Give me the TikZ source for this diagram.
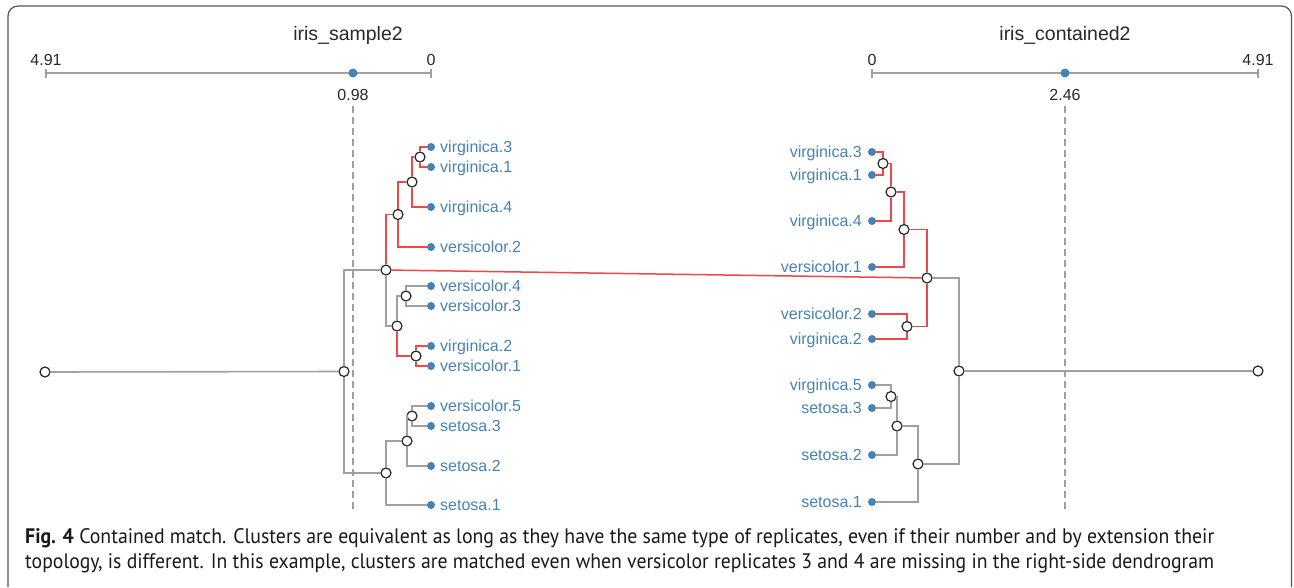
\documentclass[tikz,border=0pt]{standalone}
\usepackage{fontspec}
\setmainfont{Liberation Sans}
\newfontfamily\capfont{PT Sans}
\usepackage{graphicx}
\definecolor{edgegray}{RGB}{160,160,160}
\definecolor{edgered}{RGB}{240,72,72}
\definecolor{leafblue}{RGB}{70,130,180}
\definecolor{framegray}{RGB}{85,85,85}
\definecolor{txtdark}{RGB}{40,40,40}
\tikzset{
  leaf/.style={circle,fill=leafblue,inner sep=0pt,minimum size=8pt},
  inode/.style={circle,draw=black!85,fill=white,line width=1.2pt,inner sep=0pt,minimum size=10pt},
  gedge/.style={draw=edgegray,line width=1.6pt},
  redge/.style={draw=edgered,line width=1.6pt},
  lblL/.style={anchor=base west,text=leafblue,font=\fontsize{16}{19}\selectfont,inner sep=0pt},
  lblR/.style={anchor=base east,text=leafblue,font=\fontsize{16}{19}\selectfont,inner sep=0pt},
  numlbl/.style={anchor=base,text=txtdark,font=\fontsize{16}{19}\selectfont,inner sep=0pt},
  titlelbl/.style={anchor=base,text=txtdark,font=\fontsize{19.5}{23}\selectfont,inner sep=0pt},
  scalebar/.style={draw=edgegray,line width=1.3pt},
  cutline/.style={draw=edgegray,line width=1.2pt,dash pattern=on 7pt off 4pt},
  capline/.style={anchor=base west,inner sep=0pt,text=black!90}
}
\begin{document}
\begin{tikzpicture}[x=1pt,y=-1pt]
\useasboundingbox (0,0) rectangle (1294,587);
% frame
\draw[framegray,line width=1.2pt,rounded corners=10pt] (8,587) -- (8,6) -- (1291.5,6) -- (1291.5,587);

% ---------- left scale ----------
\node[titlelbl] (tL) at (348,40) {iris\_sample2};
\coordinate (sL0) at (46,73);
\coordinate (sL1) at (431,73);
\draw[scalebar] (sL0) -- (sL1);
\draw[scalebar] ([yshift=-4.5pt]sL0) -- ([yshift=4.5pt]sL0);
\draw[scalebar] ([yshift=-4.5pt]sL1) -- ([yshift=4.5pt]sL1);
\node[numlbl] (nL0) at (46,65) {4.91};
\node[numlbl] (nL1) at (431,65) {0};
\node[leaf,minimum size=9pt] (dL) at (353,73) {};
\node[numlbl] (nLc) at (353,100) {0.98};
\coordinate (cL1) at (353,106);
\coordinate (cL2) at (353,510);
\draw[cutline] (cL1) -- (cL2);

% ---------- right scale ----------
\node[titlelbl] (tR) at (1065,40) {iris\_contained2};
\coordinate (sR0) at (872,73);
\coordinate (sR1) at (1258,73);
\draw[scalebar] (sR0) -- (sR1);
\draw[scalebar] ([yshift=-4.5pt]sR0) -- ([yshift=4.5pt]sR0);
\draw[scalebar] ([yshift=-4.5pt]sR1) -- ([yshift=4.5pt]sR1);
\node[numlbl] (nR0) at (872,65) {0};
\node[numlbl] (nR1) at (1258,65) {4.91};
\node[leaf,minimum size=9pt] (dR) at (1065,73) {};
\node[numlbl] (nRc) at (1065,100) {2.46};
\coordinate (cR1) at (1065,106);
\coordinate (cR2) at (1065,510);
\draw[cutline] (cR1) -- (cR2);

% ---------- left leaves ----------
\foreach \n/\y/\t in {lv3/147/virginica.3, lv1/167/virginica.1, lv4/207/virginica.4,
  lve2/247/versicolor.2, lve4/286/versicolor.4, lve3/306/versicolor.3,
  lv2/346/virginica.2, lve1/366/versicolor.1, lve5/406/versicolor.5,
  ls3/426/setosa.3, ls2/466/setosa.2, ls1/505/setosa.1}{
  \node[leaf] (\n) at (431,\y) {};
  \node[lblL] (\n-t) at (440,\y+5.5) {\t};
}
% left internal nodes
\node[inode] (LA) at (420,157) {};
\node[inode] (LB) at (412,182) {};
\node[inode] (LC) at (398,214.5) {};
\node[inode] (LD) at (406,296) {};
\node[inode] (LE) at (416,356) {};
\node[inode] (LF) at (397,326) {};
\node[inode] (LG) at (386,270) {};
\node[inode] (LH) at (412,416) {};
\node[inode] (LI) at (407,441) {};
\node[inode] (LJ) at (386,473) {};
\node[inode] (LK) at (344,371.5) {};
\node[inode] (LR) at (45,372) {};

\draw[redge] (LA) |- (lv3);
\draw[redge] (LA) |- (lv1);
\draw[redge] (LB) |- (LA);
\draw[redge] (LB) |- (lv4);
\draw[redge] (LC) |- (LB);
\draw[redge] (LC) |- (lve2);
\draw[gedge] (LD) |- (lve4);
\draw[gedge] (LD) |- (lve3);
\draw[redge] (LE) |- (lv2);
\draw[redge] (LE) |- (lve1);
\draw[gedge] (LF) |- (LD);
\draw[redge] (LF) |- (LE);
\draw[redge] (LG) |- (LC);
\draw[gedge] (LG) |- (LF);
\draw[gedge] (LH) |- (lve5);
\draw[gedge] (LH) |- (ls3);
\draw[gedge] (LI) |- (LH);
\draw[gedge] (LI) |- (ls2);
\draw[gedge] (LJ) |- (LI);
\draw[gedge] (LJ) |- (ls1);
\draw[gedge] (LK) |- (LG);
\draw[gedge] (LK) |- (LJ);
\draw[gedge] (LR) -- (LK);

% ---------- right leaves ----------
\foreach \n/\y/\t in {rv3/152/virginica.3, rv1/175/virginica.1, rv4/221/virginica.4,
  rve1/267/versicolor.1, rve2/314/versicolor.2, rv2/339/virginica.2,
  rv5/385/virginica.5, rs3/408/setosa.3, rs2/455/setosa.2, rs1/502/setosa.1}{
  \node[leaf] (\n) at (872,\y) {};
  \node[lblR] (\n-t) at (862,\y+5.5) {\t};
}
\node[inode] (Ra) at (883,163.5) {};
\node[inode] (Rb) at (891,192) {};
\node[inode] (Rc) at (904,229.5) {};
\node[inode] (Rd) at (907,326.5) {};
\node[inode] (Re) at (927,278) {};
\node[inode] (Rf) at (891,396.5) {};
\node[inode] (Rg) at (897,426) {};
\node[inode] (Rh) at (918,464) {};
\node[inode] (Ri) at (959,371) {};
\node[inode] (RR) at (1258,371) {};

\draw[redge] (Ra) |- (rv3);
\draw[redge] (Ra) |- (rv1);
\draw[redge] (Rb) |- (Ra);
\draw[redge] (Rb) |- (rv4);
\draw[redge] (Rc) |- (Rb);
\draw[redge] (Rc) |- (rve1);
\draw[redge] (Rd) |- (rve2);
\draw[redge] (Rd) |- (rv2);
\draw[redge] (Re) |- (Rc);
\draw[redge] (Re) |- (Rd);
\draw[gedge] (Rf) |- (rv5);
\draw[gedge] (Rf) |- (rs3);
\draw[gedge] (Rg) |- (Rf);
\draw[gedge] (Rg) |- (rs2);
\draw[gedge] (Rh) |- (Rg);
\draw[gedge] (Rh) |- (rs1);
\draw[gedge] (Ri) |- (Re);
\draw[gedge] (Ri) |- (Rh);
\draw[gedge] (RR) -- (Ri);

% matched clusters
\draw[redge,line width=1.5pt] (LG) -- (Re);

% ---------- caption ----------
\node[capline] (cap1) at (25,543) {\resizebox{1189pt}{\height}{\capfont\fontsize{21}{25}\selectfont\textbf{Fig. 4} Contained match. Clusters are equivalent as long as they have the same type of replicates, even if their number and by extension their}};
\node[capline] (cap2) at (25,568) {\resizebox{1189pt}{\height}{\capfont\fontsize{21}{25}\selectfont topology, is different. In this example, clusters are matched even when versicolor replicates 3 and 4 are missing in the right-side dendrogram}};
\end{tikzpicture}
\end{document}
